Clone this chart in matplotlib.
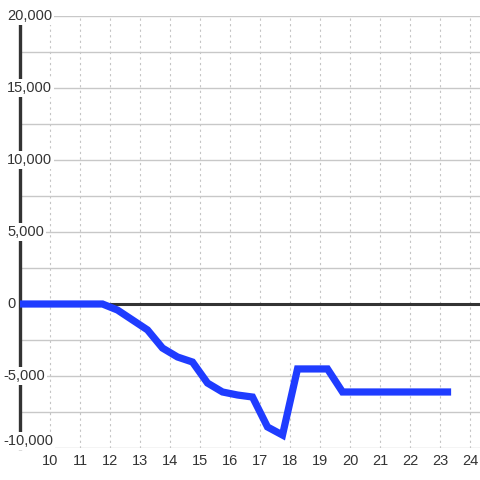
import matplotlib
matplotlib.use("Agg")
import matplotlib.pyplot as plt
import matplotlib.transforms as mtransforms
from matplotlib.ticker import MultipleLocator

hours = [8.75, 9.25, 9.75, 10.25, 10.75, 11.25, 11.75, 12.25, 12.75, 13.25, 13.75,
         14.25, 14.75, 15.25, 15.75, 16.25, 16.75, 17.25, 17.75, 18.25, 18.75,
         19.25, 19.75, 20.25, 20.75, 21.25, 21.75, 22.25, 22.75, 23.25]
values = [0, 0, 0, 0, 0, 0, 0, -420, -1110, -1800, -3060,
          -3680, -4030, -5490, -6110, -6320, -6460, -8540, -9100, -4510, -4510,
          -4510, -6110, -6110, -6110, -6110, -6110, -6110, -6110, -6110]
x_ticks = list(range(10, 25))
y_ticks = [-10000, -5000, 0, 5000, 10000, 15000, 20000]

plt.rcParams['font.family'] = ['Liberation Sans', 'DejaVu Sans']

fig = plt.figure(figsize=(4.8, 4.8), dpi=100)
ax = fig.add_axes([20/480, 32/480, 460/480, 432/480])
ax.set_xlim(9, 24.333)
ax.set_ylim(-10000, 20000)

for s in ['top', 'right', 'bottom']:
    ax.spines[s].set_visible(False)
ax.spines['left'].set_color('#333333')
ax.spines['left'].set_linewidth(2.4)
ax.spines['left'].set_zorder(1.5)

ax.yaxis.set_major_locator(MultipleLocator(5000))
ax.yaxis.set_minor_locator(MultipleLocator(2500))
ax.set_xticks(x_ticks)
ax.grid(axis='y', which='both', color='#c8c8c8', linewidth=1.0, linestyle='-')
ax.grid(axis='x', which='major', color='#c4c4c4', linewidth=0.8, linestyle=(0, (2, 3)))
ax.set_axisbelow(True)

ax.tick_params(axis='both', which='both', length=0, labelsize=10.5, labelcolor='#333333')
ax.tick_params(axis='x', pad=4)
ax.tick_params(axis='y', labelleft=False)

ax.axhline(0, color='#333333', linewidth=2.2, zorder=1.5)
ax.plot(hours, values, color='#1f3cff', linewidth=5.2, solid_joinstyle='miter', zorder=2)

trans = mtransforms.blended_transform_factory(fig.transFigure, ax.transData)
for v in y_ticks:
    va = 'bottom' if v == y_ticks[0] else 'center'
    txt = f"{v:,}"
    xpos = 3/480 if txt.startswith('-') else 7/480
    ax.text(xpos, v, txt, transform=trans, ha='left', va=va,
            fontsize=10.5, color='#333333', zorder=5,
            bbox=dict(facecolor='white', edgecolor='none', pad=1.5))

fig.savefig('out.png', dpi=100)
